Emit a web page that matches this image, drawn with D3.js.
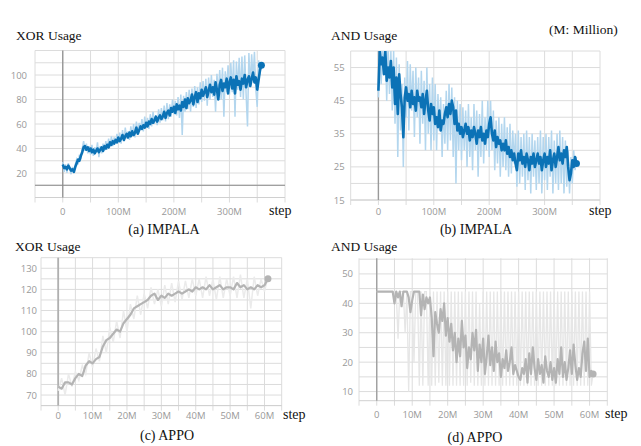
<!DOCTYPE html>
<html lang='en'>
  <head>
    <style type='text/css'>
      body {margin: 0; background-color: #fff;}
      svg text.serif {font-family: 'Liberation Serif', 'Times New Roman', serif; fill: #111;}
      svg text.tick {font-family: 'Open Sans', sans-serif; font-size: 9.5px; fill: #999;}
    </style>
  </head>
  <body>
    <svg id='chart' width='641' height='446'></svg>
    <script src='https://d3js.org/d3.v7.min.js'></script>
    <script type='text/javascript'>
        // steps in millions
        var stepsImpala = d3.range(0, 360, 2.5);
        var stepsAppo = d3.range(0, 62, 1);
        var stepsAppoFine = d3.range(0, 61.5, 0.5);

        // (a) IMPALA XOR usage
        var impalaXorSmooth = [27,24,25,23,26,24,22,23,21,25,
          28,31,30,34,37,41,42,39,41,38,
          40,37,39,36,38,40,37,39,41,38,
          42,40,43,41,45,43,46,44,47,45,
          49,46,48,51,47,50,52,49,53,50,
          54,51,53,57,52,55,58,56,59,57,
          61,58,62,60,64,61,63,66,62,65,
          67,64,66,70,65,69,71,67,73,70,
          74,69,76,72,75,71,78,74,80,73,
          81,77,79,84,76,82,86,78,85,81,
          88,83,86,90,82,87,92,86,90,84,
          94,88,80,92,96,87,93,90,97,85,
          94,98,89,96,85,99,92,95,88,97,
          93,100,90,96,99,91,97,102,94,98,
          88,96,104,108];
        var impalaXorRaw = [29,21,27,20,28,23,19,25,20,27,
          31,27,35,31,40,46,38,44,36,42,
          35,43,34,41,37,45,33,42,36,44,
          38,46,39,48,41,50,42,49,44,52,
          45,53,44,55,46,57,48,54,47,58,
          50,60,49,62,53,61,55,64,54,66,
          57,65,56,68,58,70,60,67,59,72,
          61,73,63,75,62,77,64,76,66,80,
          68,79,67,82,65,84,51,83,70,86,
          72,88,70,89,74,91,73,90,76,94,
          78,95,79,97,75,98,80,100,82,96,
          70,101,84,104,80,106,66,103,86,108,
          84,110,86,112,66,111,88,114,82,115,
          80,116,84,58,118,90,117,96,119,88,
          74,112,100,110];

        // (b) IMPALA AND usage
        var impalaAndSmooth = [48,60,56,58,53,60,51,55,52,57,
          49,55,44,52,41,53,47,43,34,46,
          49,45,47,43,48,44,46,42,48,45,
          46,43,47,41,45,48,42,39,44,41,
          43,38,40,37,42,36,39,38,41,43,
          40,44,41,45,43,38,42,36,38,35,
          37,34,36,38,35,37,33,36,34,37,
          35,32,36,34,37,33,35,32,36,34,
          38,40,35,33,36,31,34,32,33,30,
          32,30,33,29,31,28,30,27,29,26,
          24,29,27,30,26,28,25,29,27,24,
          28,26,29,25,27,29,26,28,24,27,
          29,25,28,26,30,24,27,29,25,28,
          31,27,29,26,30,28,31,25,21,23,
          27,25,28,26];
        var impalaAndRaw = [46,62,50,62,55,62,45,62,47,60,
          42,60,38,58,28,56,36,50,25,52,
          40,57,36,56,42,54,34,55,40,52,
          32,54,38,51,30,55,35,50,30,52,
          33,50,30,47,36,46,28,44,32,48,
          30,50,33,49,28,46,20,45,30,44,
          27,43,30,42,25,44,28,40,24,44,
          30,42,22,41,28,45,26,40,30,45,
          28,45,30,42,24,39,26,40,22,38,
          25,40,24,37,22,38,23,36,26,35,
          19,36,20,34,22,35,18,36,21,34,
          17,35,22,33,18,34,20,36,17,34,
          21,35,18,34,22,36,17,33,20,35,
          18,36,20,34,17,33,19,30,17,28,
          20,30,24,28];

        // (c) APPO XOR usage
        var appoXorSmooth = [74,73,76,76,75,78,80,79,84,86,85,87,88,93,96,97,99,101,100,104,
          106,108,111,112,113,114,115,117,118,115,117,116,118,117,118,119,118,119,120,119,
          121,120,121,120,122,120,121,122,120,121,121,120,123,121,122,120,121,120,122,121,
          122,125];
        var appoXorRaw = [72,78,70,80,74,81,77,84,80,90,83,92,86,98,90,102,95,105,97,110,
          100,113,106,117,108,118,111,121,113,120,112,122,113,123,114,124,115,124,116,125,
          117,125,116,126,117,125,115,126,116,125,117,126,116,127,116,125,111,126,117,125,
          119,126];

        // (d) APPO AND usage
        var appoAndSmooth = [44,44,44,44,44,44,44,44,44,44,
          40,44,42,44,39,44,44,44,42,37,
          41,44,44,44,44,36,43,38,42,40,
          42,35,22,37,33,30,38,34,40,29,
          35,27,33,24,30,20,28,22,34,25,
          29,18,25,21,30,24,31,17,26,20,
          28,16,22,29,19,25,17,27,20,23,
          15,21,18,24,17,20,25,16,19,17,
          15,14,18,16,21,13,23,16,25,18,
          14,21,16,19,13,22,17,15,20,14,
          18,13,21,16,25,15,20,14,18,24,
          16,26,19,14,18,15,23,27,17,28,
          15,17,16];
        var appoAndRaw = [44,44,44,44,44,44,44,44,44,44,
          44,44,28,44,44,44,30,44,10,44,
          44,20,44,44,12,44,12,44,44,12,
          44,12,44,12,44,13,44,12,44,12,
          44,12,44,12,44,12,44,12,44,12,
          44,12,44,13,44,12,44,12,40,12,
          44,12,44,12,44,12,44,12,44,12,
          44,12,44,12,44,12,44,12,44,12,
          44,12,44,12,44,12,44,12,44,12,
          44,12,44,12,44,12,44,12,44,12,
          44,12,44,12,44,12,44,12,44,12,
          44,12,44,12,44,12,44,12,44,12,
          44,12,16];

        var svg = d3.select('#chart');

        var panels = [
          {id: 'a', title: 'XOR Usage', caption: '(a) IMPALA', titleX: 16, titleY: 40,
           captionX: 164, captionY: 234,
           box: {x0: 35, x1: 285, y0: 50.5, y1: 197.5},
           xDomain: [-50, 400], yDomain: [0, 120], xGrid: 50, yGrid: 10,
           xTicks: [0, 100, 200, 300], yTicks: [20, 40, 60, 80, 100], yLabelGap: 8,
           darkY: 10, zeroStyle: {stroke: '#8a8a8a', width: 1.2},
           smoothSteps: stepsImpala, rawSteps: stepsImpala,
           smooth: impalaXorSmooth, raw: impalaXorRaw,
           color: '#0b72b6', light: '#b3d6ee', rawWidth: 1.5, lineWidth: 2.6, stepX: 269, labelY: 215},
          {id: 'b', title: 'AND Usage', caption: '(b) IMPALA', titleX: 331, titleY: 40,
           captionX: 476, captionY: 234,
           box: {x0: 350.7, x1: 600, y0: 51, y1: 200},
           xDomain: [-50, 400], yDomain: [15, 60], xGrid: 50, yGrid: 5,
           xTicks: [0, 100, 200, 300], yTicks: [15, 25, 35, 45, 55], yLabelGap: 6,
           darkY: null, zeroStyle: {stroke: '#9a9a9a', width: 1.4},
           smoothSteps: stepsImpala, rawSteps: stepsImpala,
           smooth: impalaAndSmooth, raw: impalaAndRaw,
           color: '#0b72b6', light: '#b3d6ee', rawWidth: 1.5, lineWidth: 2.6, stepX: 589, labelY: 215},
          {id: 'c', title: 'XOR Usage', caption: '(c) APPO', titleX: 15, titleY: 251,
           captionX: 167, captionY: 440,
           box: {x0: 41, x1: 281.7, y0: 257.7, y1: 405.6},
           xDomain: [-5, 65], yDomain: [65, 135], xGrid: 5, yGrid: 5,
           xTicks: [0, 10, 20, 30, 40, 50, 60], yTicks: [70, 80, 90, 100, 110, 120, 130], yLabelGap: 4,
           darkY: null, zeroStyle: {stroke: '#b0b0b0', width: 1.8},
           smoothSteps: stepsAppo, rawSteps: stepsAppo,
           smooth: appoXorSmooth, raw: appoXorRaw,
           color: '#b4b4b4', light: '#ebebeb', rawWidth: 1.5, lineWidth: 2.2, stepX: 283, labelY: 419},
          {id: 'd', title: 'AND Usage', caption: '(d) APPO', titleX: 331, titleY: 251,
           captionX: 475, captionY: 442,
           box: {x0: 359, x1: 607.3, y0: 258.3, y1: 400.7},
           xDomain: [-5, 65], yDomain: [6.9, 55.3], xGrid: 5, yGrid: 5,
           xTicks: [0, 10, 20, 30, 40, 50, 60], yTicks: [10, 20, 30, 40, 50], yLabelGap: 6,
           darkY: null, zeroStyle: {stroke: '#a0a0a0', width: 1.4},
           smoothSteps: stepsAppoFine, rawSteps: stepsAppoFine,
           smooth: appoAndSmooth, raw: appoAndRaw,
           color: '#b4b4b4', light: '#e6e6e6', rawWidth: 1.3, lineWidth: 2.2, stepX: 605, labelY: 418}
        ];

        function fmtStep(v) { return v === 0 ? '0' : v + 'M'; }

        panels.forEach(function(p) {
          var x = d3.scaleLinear().domain(p.xDomain).range([p.box.x0, p.box.x1]);
          var y = d3.scaleLinear().domain(p.yDomain).range([p.box.y1, p.box.y0]);
          var g = svg.append('g').attr('class', 'panel-' + p.id);

          // grid
          var xg = d3.range(p.xDomain[0], p.xDomain[1] + 0.001, p.xGrid);
          var yStart = Math.ceil(p.yDomain[0] / p.yGrid) * p.yGrid;
          var yg = d3.range(yStart, p.yDomain[1] + 0.001, p.yGrid);
          g.selectAll('line.vg').data(xg).enter().append('line')
            .attr('x1', x).attr('x2', x)
            .attr('y1', p.box.y0).attr('y2', p.box.y1 + 5)
            .attr('stroke', '#dcdcdc').attr('stroke-width', 1);
          g.selectAll('line.hg').data(yg).enter().append('line')
            .attr('x1', p.box.x0).attr('x2', p.box.x1)
            .attr('y1', y).attr('y2', y)
            .attr('stroke', '#dcdcdc').attr('stroke-width', 1);
          // bottom edge
          g.append('line')
            .attr('x1', p.box.x0).attr('x2', p.box.x1)
            .attr('y1', p.box.y1).attr('y2', p.box.y1)
            .attr('stroke', '#d0d0d0');

          if (p.darkY !== null) {
            g.append('line')
              .attr('x1', p.box.x0).attr('x2', p.box.x1)
              .attr('y1', y(p.darkY)).attr('y2', y(p.darkY))
              .attr('stroke', '#8a8a8a').attr('stroke-width', 1.2);
          }
          g.append('line')
            .attr('x1', x(0)).attr('x2', x(0))
            .attr('y1', p.box.y0).attr('y2', p.box.y1)
            .attr('stroke', p.zeroStyle.stroke).attr('stroke-width', p.zeroStyle.width);

          // tick labels
          g.selectAll('text.xt').data(p.xTicks).enter().append('text')
            .attr('class', 'tick')
            .attr('x', x).attr('y', p.labelY)
            .attr('text-anchor', 'middle')
            .text(fmtStep);
          g.selectAll('text.yt').data(p.yTicks).enter().append('text')
            .attr('class', 'tick')
            .attr('x', p.box.x0 - p.yLabelGap).attr('y', function(d) { return y(d) + 3.5; })
            .attr('text-anchor', 'end')
            .text(function(d) { return d; });

          // clip
          svg.append('clipPath').attr('id', 'clip-' + p.id)
            .append('rect')
            .attr('x', p.box.x0).attr('y', p.box.y0)
            .attr('width', p.box.x1 - p.box.x0).attr('height', p.box.y1 - p.box.y0);

          var rawLine = d3.line()
            .x(function(d, i) { return x(p.rawSteps[i]); })
            .y(function(d) { return y(d); });
          var smoothLine = d3.line()
            .x(function(d, i) { return x(p.smoothSteps[i]); })
            .y(function(d) { return y(d); });

          var plot = g.append('g').attr('clip-path', 'url(#clip-' + p.id + ')');
          plot.append('path').datum(p.raw)
            .attr('d', rawLine)
            .attr('fill', 'none')
            .attr('stroke', p.light)
            .attr('stroke-width', p.rawWidth);
          plot.append('path').datum(p.smooth)
            .attr('d', smoothLine)
            .attr('fill', 'none')
            .attr('stroke', p.color)
            .attr('stroke-width', p.lineWidth)
            .attr('stroke-linejoin', 'round');

          var last = p.smooth.length - 1;
          g.append('circle')
            .attr('cx', x(p.smoothSteps[last])).attr('cy', y(p.smooth[last]))
            .attr('r', 3.5).attr('fill', p.color);

          // text
          g.append('text').attr('class', 'serif')
            .attr('x', p.titleX).attr('y', p.titleY)
            .style('font-size', '13.5px').text(p.title);
          g.append('text').attr('class', 'serif')
            .attr('x', p.captionX).attr('y', p.captionY)
            .attr('text-anchor', 'middle')
            .style('font-size', '14px').text(p.caption);
          g.append('text').attr('class', 'serif')
            .attr('x', p.stepX).attr('y', p.labelY)
            .style('font-size', '14px').text('step');
        });

        svg.append('text').attr('class', 'serif')
          .attr('x', 549).attr('y', 34)
          .style('font-size', '13.5px').text('(M: Million)');
    </script>
  </body>
</html>
